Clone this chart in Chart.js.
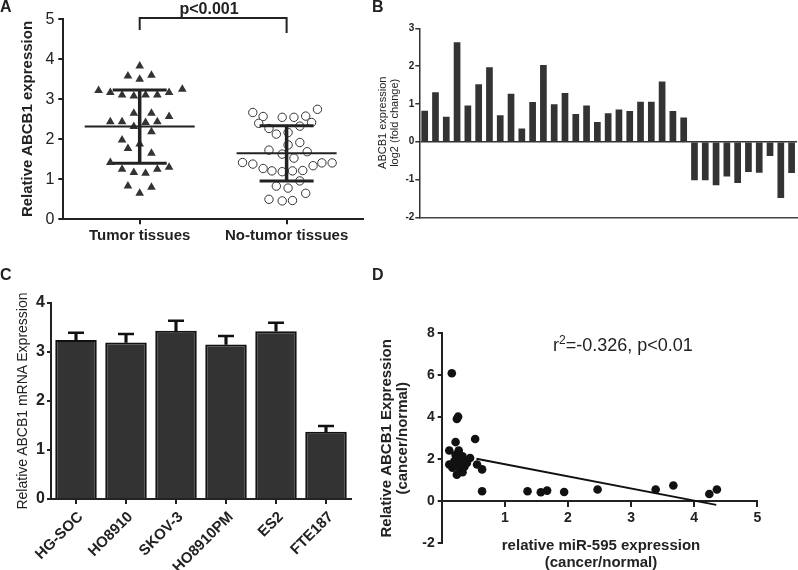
<!DOCTYPE html>
<html>
<head>
<meta charset="utf-8">
<script src="https://cdn.jsdelivr.net/npm/chart.js@4.4.1/dist/chart.umd.min.js"></script>
<style>
  body { margin: 0; width: 798px; height: 570px; overflow: hidden; background: #fff; position: relative;
         font-family: "Liberation Sans", Arial, sans-serif; color: #222; }
  .panel { position: absolute; }
  .txt { position: absolute; white-space: nowrap; }
  .letter { font-weight: bold; font-size: 16px; line-height: 16px; }
</style>
</head>
<body>
<div class="panel" style="left:0;top:0;width:372px;height:260px"><canvas id="chartA"></canvas></div>
<div class="panel" style="left:370px;top:0;width:428px;height:230px"><canvas id="chartB"></canvas></div>
<div class="panel" style="left:0;top:280px;width:372px;height:290px"><canvas id="chartC"></canvas></div>
<div class="panel" style="left:370px;top:290px;width:428px;height:280px"><canvas id="chartD"></canvas></div>

<div class="txt letter" style="left:0;top:-1px">A</div>
<div class="txt letter" style="left:372px;top:-1px">B</div>
<div class="txt letter" style="left:0;top:267px">C</div>
<div class="txt letter" style="left:372px;top:267px">D</div>
<div class="txt" style="left:209px;top:0;transform:translateX(-50%);font-weight:bold;font-size:16px;line-height:18px">p&lt;0.001</div>
<div class="txt" style="left:553px;top:334px;font-size:18px;line-height:22px">r<sup style="font-size:12px;vertical-align:7px;line-height:0">2</sup>=-0.326, p&lt;0.01</div>
<div class="txt" style="left:451px;top:536px;width:300px;text-align:center;font-weight:bold;font-size:15px;line-height:17px">relative miR-595 expression<br>(cancer/normal)</div>

<script>
// A: scatter of tissue samples (x = group position with jitter)
const groups = ["Tumor tissues", "No-tumor tissues"];
const tumorX = [1.00, 0.92, 1.00, 1.08, 0.72, 0.80, 0.88, 0.96, 1.04, 1.12, 1.20, 1.29,
  0.96, 1.08, 1.20, 0.80, 0.88, 0.96, 1.04, 1.12, 1.08, 0.88, 1.00, 0.92, 1.08,
  0.80, 0.88, 0.96, 1.04, 1.12, 1.20, 0.92, 1.00, 1.08];
const tumorY = [3.83, 3.58, 3.50, 3.60, 3.22, 3.17, 3.11, 3.08, 3.11, 3.11, 3.17, 3.25,
  2.65, 2.65, 2.57, 2.44, 2.44, 2.32, 2.42, 2.44, 2.19, 1.98, 1.88, 1.77, 1.65,
  1.42, 1.25, 1.17, 1.15, 1.25, 1.30, 0.83, 0.65, 0.80];
const normalX = [1.77, 1.84, 1.81, 1.97, 2.05, 2.13, 2.21, 2.17, 2.09, 1.88, 1.93, 2.01,
  2.01, 2.09, 1.88, 1.97, 2.14, 2.05, 1.70, 1.77, 1.84, 1.90, 1.97, 2.04, 2.11, 2.18,
  2.24, 2.31, 2.09, 1.93, 2.01, 2.13, 1.88, 1.97, 2.04];
const normalY = [2.67, 2.57, 2.40, 2.55, 2.55, 2.58, 2.75, 2.42, 2.33, 2.27, 2.13, 2.17,
  1.86, 1.92, 1.73, 1.63, 1.69, 1.53, 1.42, 1.38, 1.27, 1.21, 1.19, 1.21, 1.22, 1.34,
  1.41, 1.41, 0.96, 0.83, 0.78, 0.65, 0.50, 0.46, 0.47];
const groupMean = [2.32, 1.65];
const groupSdLow = [1.40, 0.96];
const groupSdHigh = [3.23, 2.34];
const bracketX = [1, 1, 2, 2];
const bracketY = [4.73, 5.03, 5.03, 4.66];

// B: log2 fold change per case
const foldChange = [0.82, 1.31, 0.66, 2.63, 0.96, 1.52, 1.97, 0.70, 1.27, 0.35,
  1.05, 2.03, 0.99, 1.29, 0.73, 0.96, 0.52, 0.75, 0.85, 0.81,
  1.06, 1.06, 1.59, 0.81, 0.64, -1.02, -1.02, -1.15, -0.92, -1.09,
  -0.80, -0.82, -0.38, -1.49, -0.83];
const caseIds = foldChange.map((_, i) => String(i + 1));

// C: cell lines
const cellLines = ["HG-SOC", "HO8910", "SKOV-3", "HO8910PM", "ES2", "FTE187"];
const cellMean = [3.24, 3.19, 3.43, 3.15, 3.42, 1.37];
const cellErr = [0.15, 0.17, 0.20, 0.17, 0.17, 0.12];

// D: correlation
const mirX = [0.16, 0.24, 0.26, 0.22, 0.53, 0.12, 0.27,
  0.12, 0.17, 0.22, 0.24, 0.28, 0.30, 0.24, 0.33, 0.34, 0.36, 0.40, 0.45, 0.30, 0.20, 0.33, 0.27, 0.56, 0.64,
  0.64, 1.36, 1.57, 1.67, 1.94, 2.47, 3.39, 3.67, 4.24, 4.36];
const abcbY = [6.10, 3.92, 4.03, 2.82, 2.97, 2.42, 2.42,
  1.75, 1.60, 2.20, 1.85, 2.00, 1.50, 1.27, 2.14, 1.90, 1.65, 1.83, 2.06, 1.75, 1.90, 1.38, 1.65, 1.75, 1.52,
  0.48, 0.48, 0.43, 0.51, 0.44, 0.56, 0.56, 0.75, 0.35, 0.56];
const fitX = [0.55, 4.35];
const fitY = [2.03, -0.17];

const FONT = '"Liberation Sans", Arial, sans-serif';
Chart.defaults.font.family = FONT;
Chart.defaults.color = "#222";

const base = {
  responsive: true,
  maintainAspectRatio: false,
  animation: false,
  events: [],
  plugins: { legend: { display: false }, tooltip: { enabled: false } }
};

const fixWidth = w => scale => { scale.width = w; };
const fixHeight = h => scale => { scale.height = h; };
const axisLine = { color: "#222", width: 2 };
const tickGrid = { drawOnChartArea: false, color: "#222", lineWidth: 2, tickLength: 5 };
const pts = (xs, ys) => xs.map((x, i) => ({ x, y: ys[i] }));

function addText(text, style) {
  const d = document.createElement("div");
  d.className = "txt";
  d.textContent = text;
  Object.assign(d.style, style);
  document.body.appendChild(d);
}

// vertical axis title placed from the chart's own y scale
function yTitle(chart, panelLeft, panelTop, text, size, weight) {
  const s = chart.scales.y;
  addText(text, {
    left: panelLeft + s.left + size * 0.6 + "px",
    top: panelTop + (s.top + s.bottom) / 2 + "px",
    font: weight + " " + size + "px " + FONT,
    lineHeight: size * 1.2 + "px",
    transform: "translate(-50%, -50%) rotate(-90deg)"
  });
}

// SD stem for each group
const sdStems = groupMean.map((_, i) => ({
  data: [{ x: i + 1, y: groupSdLow[i] }, { x: i + 1, y: groupSdHigh[i] }],
  showLine: true, borderColor: "#222", borderWidth: 3.5, pointRadius: 0
}));

const chartA = new Chart(document.getElementById("chartA"), {
  type: "scatter",
  data: {
    datasets: [
      { data: groupMean.map((m, i) => ({ x: i + 1, y: m })), pointStyle: "line", pointRadius: [55, 50], borderColor: "#222", borderWidth: 2 },
      { data: groupMean.flatMap((_, i) => [{ x: i + 1, y: groupSdLow[i] }, { x: i + 1, y: groupSdHigh[i] }]), pointStyle: "line", pointRadius: 27, borderColor: "#222", borderWidth: 3 },
      ...sdStems,
      { data: pts(bracketX, bracketY), showLine: true, borderColor: "#222", borderWidth: 2, pointRadius: 0, clip: false },
      { data: pts(tumorX, tumorY), order: 1, pointStyle: "triangle", radius: 5, backgroundColor: "#333", borderWidth: 0 },
      { data: pts(normalX, normalY), order: 1, pointStyle: "circle", radius: 4.2, backgroundColor: "#fff", borderColor: "#333", borderWidth: 1 }
    ]
  },
  options: {
    ...base,
    layout: { autoPadding: false, padding: { top: 19.3, right: 9, bottom: 0, left: 18 } },
    scales: {
      x: {
        type: "linear", min: 0.48, max: 2.52,
        afterBuildTicks: s => { s.ticks = [{ value: 1 }, { value: 2 }]; },
        afterFit: fixHeight(40.7),
        ticks: { callback: v => groups[v - 1], font: { size: 15, weight: "bold" }, padding: 3 },
        grid: tickGrid, border: axisLine
      },
      y: {
        min: 0, max: 5,
        afterFit: fixWidth(45.3),
        ticks: { stepSize: 1, font: { size: 16 }, padding: 4 },
        grid: tickGrid, border: axisLine
      }
    }
  }
});
yTitle(chartA, 0, 0, "Relative ABCB1  expression", 15, "bold");

new Chart(document.getElementById("chartB"), {
  type: "bar",
  data: { labels: caseIds, datasets: [{ data: foldChange, backgroundColor: "#333", barPercentage: 0.62, categoryPercentage: 1 }] },
  options: {
    ...base,
    layout: { padding: { top: 28.3, right: 1, bottom: 0, left: 7 } },
    scales: {
      x: {
        afterFit: fixHeight(12.7),
        ticks: { display: false }, grid: { display: false },
        border: { color: "#444", width: 1.5 }
      },
      y: {
        min: -2, max: 3,
        afterFit: fixWidth(42.3),
        ticks: { stepSize: 1, font: { size: 10, weight: "bold" }, padding: 1 },
        grid: { color: c => c.tick && c.tick.value === 0 ? "#333" : "rgba(0,0,0,0)", tickColor: "#333", lineWidth: 1.5, tickLength: 4 },
        border: { color: "#333", width: 1.5 },
        title: { display: true, text: ["ABCB1 expression", "log2 (fold change)"], font: { size: 11, lineHeight: 1.1 }, padding: 0 }
      }
    }
  }
});

const chartC = new Chart(document.getElementById("chartC"), {
  type: "bar",
  data: {
    labels: cellLines,
    datasets: [
      { type: "line", data: cellMean.map((m, i) => m + cellErr[i]), showLine: false, pointStyle: "line", pointRadius: 8, pointBorderWidth: 2.5, borderColor: "#111", order: 0 },
      { data: cellMean.map((m, i) => [m, m + cellErr[i]]), backgroundColor: "#111", barThickness: 2.5, grouped: false, order: 1 },
      { data: cellMean, backgroundColor: "#333", borderColor: "#111", borderWidth: 2, barPercentage: 0.83, categoryPercentage: 1, grouped: false, order: 2 }
    ]
  },
  options: {
    ...base,
    layout: { autoPadding: false, padding: { top: 22.7, right: 21, bottom: 0, left: 13.6 } },
    scales: {
      x: {
        afterFit: fixHeight(71),
        ticks: { display: false },
        grid: { ...tickGrid, offset: false }, border: axisLine
      },
      y: {
        min: 0, max: 4,
        afterFit: fixWidth(37.4),
        ticks: { stepSize: 1, font: { size: 16, weight: "bold" }, padding: 2 },
        grid: { ...tickGrid, tickLength: 4 }, border: axisLine
      }
    }
  }
});
yTitle(chartC, 0, 280, "Relative ABCB1 mRNA Expression", 14, "normal");

// rotated category labels anchored at the x scale's tick positions
const xC = chartC.scales.x;
cellLines.forEach((name, i) => {
  const ax = xC.getPixelForTick(i) + 4;
  const ay = 280 + xC.top + 15;
  addText(name, {
    right: 798 - ax + "px",
    top: ay - 8 + "px",
    font: "bold 15px " + FONT,
    lineHeight: "16px",
    transformOrigin: "100% 50%",
    transform: "rotate(-45deg)"
  });
});

new Chart(document.getElementById("chartD"), {
  type: "scatter",
  data: {
    datasets: [
      { data: pts(mirX, abcbY), radius: 4.3, backgroundColor: "#111", borderWidth: 0 },
      { data: pts(fitX, fitY), showLine: true, borderColor: "#111", borderWidth: 2, pointRadius: 0 }
    ]
  },
  options: {
    ...base,
    layout: { padding: { top: 43.3, right: 40.7, bottom: 26.7, left: 9 } },
    scales: {
      x: {
        type: "linear", position: { y: 0 }, min: 0, max: 5,
        afterFit: fixHeight(0),
        ticks: { stepSize: 1, callback: v => v === 0 ? "" : v, font: { size: 14, weight: "bold" }, padding: 3 },
        grid: tickGrid, border: axisLine
      },
      y: {
        min: -2, max: 8,
        afterFit: fixWidth(62.7),
        ticks: { stepSize: 2, font: { size: 14, weight: "bold" }, padding: 3 },
        grid: { ...tickGrid, tickLength: 4 }, border: axisLine,
        title: { display: true, text: ["Relative ABCB1 Expression", "(cancer/normal)"], font: { size: 15, weight: "bold", lineHeight: 1.07 }, padding: 0 }
      }
    }
  }
});
</script>
</body>
</html>
